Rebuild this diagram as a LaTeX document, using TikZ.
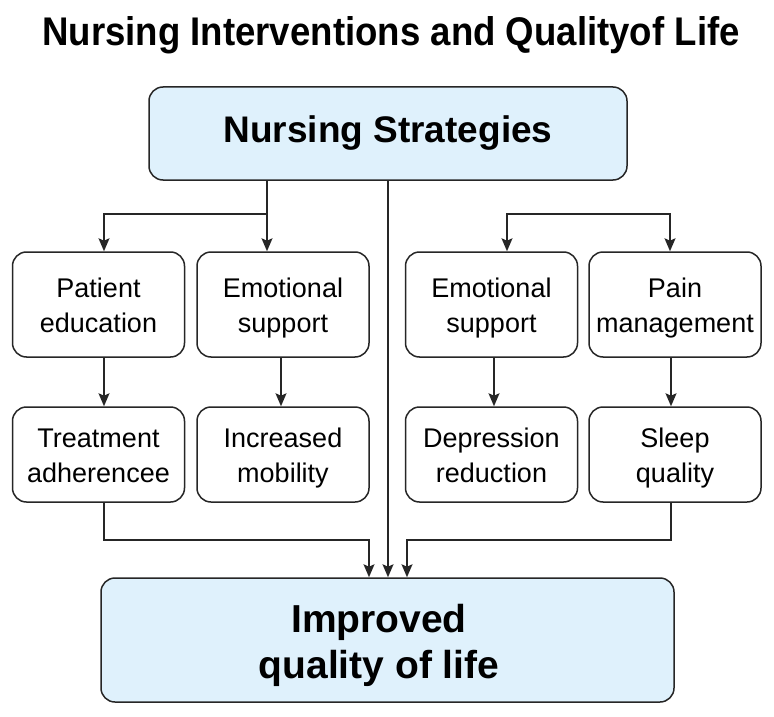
\documentclass[tikz,border=0pt]{standalone}
\usepackage{fontspec}
\usepackage{graphicx}
\setmainfont{Liberation Sans}
\usetikzlibrary{arrows.meta}
\definecolor{boxblue}{HTML}{DFF1FC}
\definecolor{ink}{HTML}{262626}
\newcommand\firstln{\rule{0pt}{28.5pt}}
\newcommand\lastln{\rule[-7.5pt]{0pt}{7.5pt}}
\newcommand\bigfirst{\rule{0pt}{40pt}}
\newcommand\biglast{\rule[-10pt]{0pt}{10pt}}
\tikzset{
  boxbase/.style={draw=ink, line width=1.5pt, rounded corners=14pt, inner sep=0pt, align=center, text=black},
  smallbox/.style={boxbase, minimum width=172pt, font=\fontsize{27}{35}\selectfont},
  bigbox/.style={boxbase, fill=boxblue},
  tip/.tip={Stealth[length=13pt,width=11pt,inset=2.5pt]},
  conn/.style={draw=ink, line width=1.5pt},
  arr/.style={conn, -tip},
  darr/.style={conn, tip-tip}
}
\begin{document}
\begin{tikzpicture}[x=1pt,y=-1pt]
\fill[white] (0,0) rectangle (774,717);
\useasboundingbox (0,0) rectangle (774,717);

\node[anchor=base, font=\fontsize{40}{48}\selectfont\bfseries] (title) at (391,46)
  {\scalebox{0.915}[1]{Nursing Interventions and Qualityof Life}};

\node[bigbox, minimum width=478pt, minimum height=93pt, font=\fontsize{37}{44}\selectfont\bfseries] (top) at (388,133.5)
  {\rule[-8pt]{0pt}{34pt}Nursing Strategies};

\node[smallbox, minimum height=105pt] (b1) at (98.5,304.5) {\firstln Patient\\education\lastln};
\node[smallbox, minimum height=105pt] (b2) at (283,304.5) {\firstln Emotional\\support\lastln};
\node[smallbox, minimum height=105pt] (b3) at (491.5,304.5) {\firstln Emotional\\support\lastln};
\node[smallbox, minimum height=105pt] (b4) at (675,304.5) {\firstln Pain\\management\lastln};

\node[smallbox, minimum height=95pt] (b5) at (98.5,454.5) {\firstln Treatment\\adherencee\lastln};
\node[smallbox, minimum height=95pt] (b6) at (283,454.5) {\firstln Increased\\mobility\lastln};
\node[smallbox, minimum height=95pt] (b7) at (491.5,454.5) {\firstln Depression\\reduction\lastln};
\node[smallbox, minimum height=95pt] (b8) at (675,454.5) {\firstln Sleep\\quality\lastln};

\node[bigbox, minimum width=573pt, minimum height=124pt, font=\fontsize{39}{46}\selectfont\bfseries] (bot) at (387.5,640)
  {\bigfirst Improved\hspace*{17pt}\\quality of life\biglast\hspace*{17pt}};

% top branches
\coordinate (j0) at (104,214);
\coordinate (j1) at (267,214);
\coordinate (j3) at (507,214);
\coordinate (j4) at (670,214);
\draw[conn] (top.south -| j1) -- (j1);
\draw[darr] (b1.north -| j0) -- (j0) -- (j1) -- (b2.north -| j1);
\draw[darr] (b3.north -| j3) -- (j3) -- (j4) -- (b4.north -| j4);

% row arrows
\draw[arr] ([xshift=5.5pt]b1.south) -- ([xshift=5.5pt]b5.north);
\draw[arr] ([xshift=-2pt]b2.south) -- ([xshift=-2pt]b6.north);
\draw[arr] ([xshift=2.5pt]b3.south) -- ([xshift=2.5pt]b7.north);
\draw[arr] ([xshift=-4pt]b4.south) -- ([xshift=-4pt]b8.north);

% to bottom
\coordinate (k1) at (104,540);
\coordinate (k2) at (369,540);
\coordinate (k3) at (671,540);
\coordinate (k4) at (407,540);
\draw[arr] (b5.south -| k1) -- (k1) -- (k2) -- (bot.north -| k2);
\draw[arr] (b8.south -| k3) -- (k3) -- (k4) -- (bot.north -| k4);
\draw[arr] (top.south) -- (top.south |- bot.north);
\end{tikzpicture}
\end{document}
